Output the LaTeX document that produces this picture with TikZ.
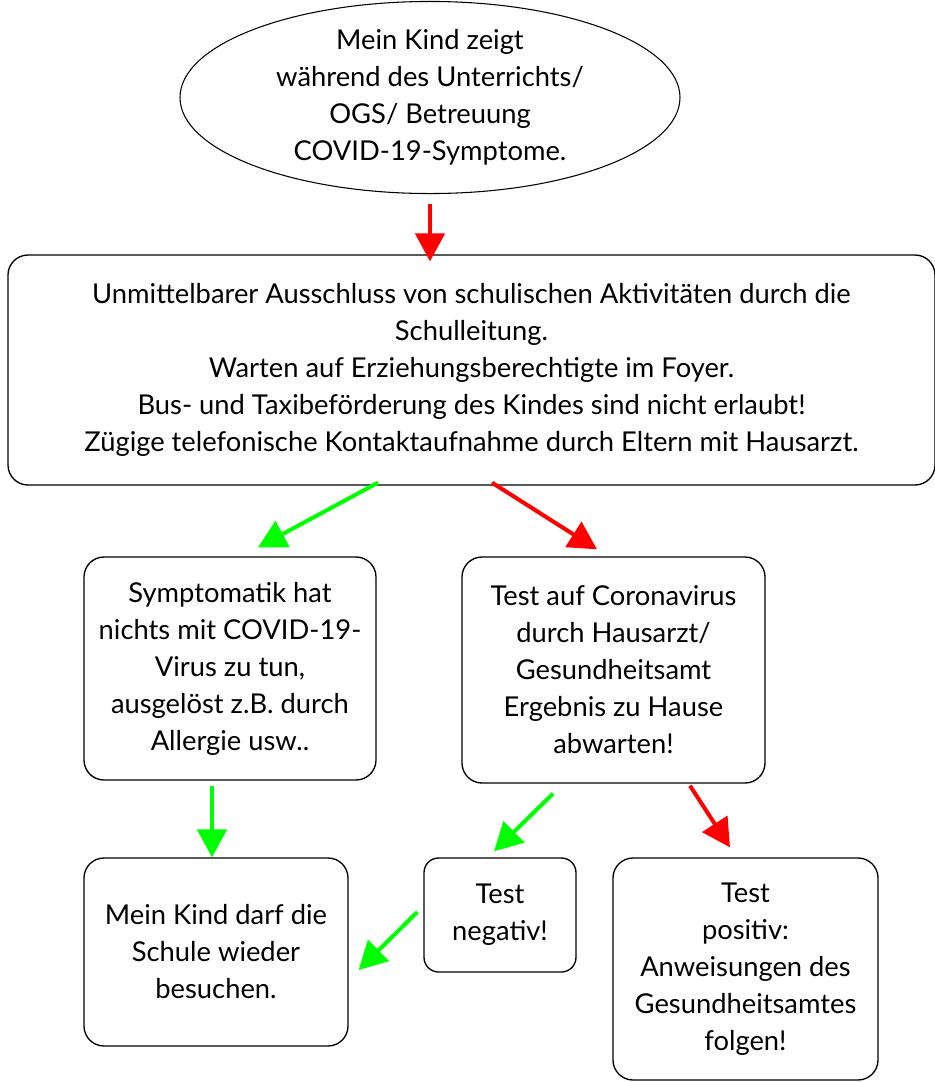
\documentclass[tikz,border=0pt]{standalone}
\usepackage{fontspec}
\setmainfont{Lato}
\usepackage{tikz}
\usetikzlibrary{arrows.meta,shapes.geometric}
\tikzstyle{kasten} = [draw=black, line width=1pt, rectangle, rounded corners=15pt, align=center, inner sep=0pt, font=\fontsize{20.5}{27.75}\selectfont]
\tikzstyle{oval} = [draw=black, line width=0.8pt, ellipse, align=center, inner sep=0pt, font=\fontsize{20.5}{27.75}\selectfont]
\tikzstyle{pfeilgruen} = [draw=green, line width=3pt, -{Triangle[length=21pt,width=22pt]}]
\tikzstyle{pfeilrot} = [draw=red, fill=red, line width=3pt, -{Triangle[length=21pt,width=22pt]}]

\begin{document}
\begin{tikzpicture}[x=0.75pt,y=-0.75pt]
	\useasboundingbox (0,0) rectangle (935,1082);
	% Start
	\node[oval, minimum width=375pt, minimum height=138.75pt](start) at (430,97.5){Mein Kind zeigt\\während des Unterrichts/\\OGS/ Betreuung\\COVID-19-Symptome.};
	% Ausschluss
	\node[kasten, minimum width=695.25pt, minimum height=172.5pt](ausschluss) at (471.5,370){Unmittelbarer Ausschluss von schulischen Aktivitäten durch die\\Schulleitung.\\Warten auf Erziehungsberechtigte im Foyer.\\Bus- und Taxibeförderung des Kindes sind nicht erlaubt!\\Zügige telefonische Kontaktaufnahme durch Eltern mit Hausarzt.};
	% zweite Reihe
	\node[kasten, minimum width=219pt, minimum height=167.25pt](allergie) at (230,668.5){Symptomatik hat\\nichts mit COVID-19-\\Virus zu tun,\\ausgelöst z.B. durch\\Allergie usw..};
	\node[kasten, minimum width=227.25pt, minimum height=169.5pt](test) at (613.5,670){Test auf Coronavirus\\durch Hausarzt/\\Gesundheitsamt\\Ergebnis zu Hause\\abwarten!};
	% dritte Reihe
	\node[kasten, minimum width=198pt, minimum height=141pt](schule) at (216,952){Mein Kind darf die\\Schule wieder\\besuchen.};
	\node[kasten, rounded corners=11pt, minimum width=114pt, minimum height=85.5pt](negativ) at (500,915){Test\\negativ!};
	\node[kasten, minimum width=198.75pt, minimum height=166.5pt](positiv) at (745.5,969){Test\\positiv:\\Anweisungen des\\Gesundheitsamtes\\folgen!};

	\draw[pfeilrot] ([shift={(0,10)}]start.south) -- ([shift={(-41.5,7)}]ausschluss.north);
	\draw[pfeilgruen] ([shift={(-93.5,-3)}]ausschluss.south) -- ([shift={(28,-9)}]allergie.north);
	\draw[pfeilrot] ([shift={(20.5,-3)}]ausschluss.south) -- ([shift={(-16.5,-7)}]test.north);
	\draw[pfeilgruen] ([shift={(-18,5)}]allergie.south) -- ([shift={(-4,0)}]schule.north);
	\draw[pfeilgruen] ([shift={(-60.5,10)}]test.south) -- ([shift={(-6,-6)}]negativ.north);
	\draw[pfeilrot] ([shift={(76.5,2)}]test.south) -- ([shift={(-15.5,-10)}]positiv.north);
	\draw[pfeilgruen] ([shift={(-6,-3)}]negativ.west) -- ([shift={(10,18)}]schule.east);
\end{tikzpicture}
\end{document}
